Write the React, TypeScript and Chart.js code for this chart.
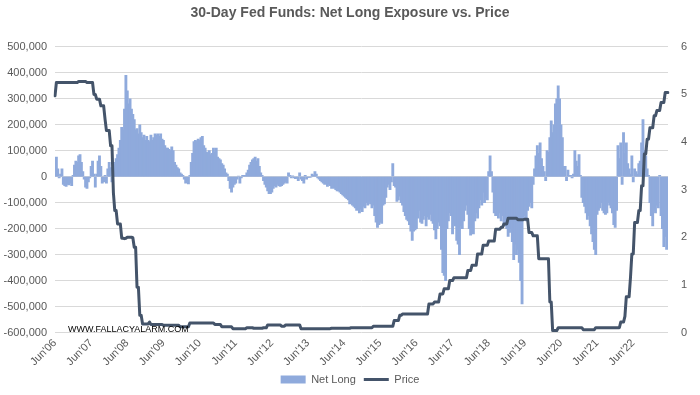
import { useEffect, useRef } from 'react';
import { Chart, registerables } from 'chart.js';

Chart.register(...registerables);

// One point every two weeks, starting June 2006 (26 points per year)
const periodsPerYear = 26;
const yearTicks = [
  "Jun'06", "Jun'07", "Jun'08", "Jun'09", "Jun'10", "Jun'11", "Jun'12", "Jun'13", "Jun'14",
  "Jun'15", "Jun'16", "Jun'17", "Jun'18", "Jun'19", "Jun'20", "Jun'21", "Jun'22",
];

// Net long positions, in thousands of contracts
const netLongThousands = [
  45, 75, 30, -5, 10, 30, -30, -35, -38, -30, -32, -25, -35, 5, 45, 60, 55, 80, 85, 55, 20, -10, -40, -45, -20, -5,
  40, 60, 10, -40, 10, 60, 80, 40, -25, -20, 5, -25, 30, 55, 35, -20, 45, 55, 70, 85, 110, 140, 190, 180, 260, 390,
  330, 280, 300, 260, 240, 220, 180, 185, 165, 200, 170, 150, 160, 140, 155, 140, 135, 160, 140, 150, 165, 160, 165, 155, 165, 145,
  140, 120, 110, 110, 105, 100, 115, 100, 55, 45, 35, 30, 15, 10, 5, -10, -25, -15, -28, 5, 55, 90, 135, 140, 135, 145,
  140, 150, 155, 120, 110, 95, 90, 100, 85, 90, 110, 95, 110, 75, 70, 65, 50, 45, 30, 15, 10, -15, -45, -60, -40, -30,
  -25, -10, 2, -25, -5, 5, 3, 5, 15, 25, 45, 55, 65, 70, 75, 60, 70, 40, 15, 5, -15, -30, -40, -55, -65, -65,
  -60, -45, -35, -40, -30, -35, -38, -35, -30, -25, -20, -25, 15, 5, -5, 3, -5, -8, -5, -15, 15, -10, -15, -25, 5, -10,
  -3, -3, -2, 10, 5, 20, 10, -5, -10, -15, -20, -25, -30, -25, -38, -30, -35, -45, -40, -45, -50, -55, -55, -60, -65, -70,
  -75, -80, -85, -90, -105, -100, -110, -115, -120, -130, -125, -140, -125, -135, -115, -120, -100, -110, -95, -105, -120, -110, -150, -175, -195, -185,
  -175, -180, -110, -105, -80, -40, -30, -50, -20, 50, -35, -40, -95, -90, -75, -100, -110, -135, -150, -165, -170, -185, -210, -245, -210, -205,
  -200, -160, -130, -175, -180, -165, -150, -190, -155, -165, -145, -170, -180, -205, -240, -200, -175, -190, -280, -370, -380, -400, -200, -170, -140, -150,
  -220, -180, -190, -245, -260, -300, -190, -200, -170, -130, -110, -145, -200, -225, -180, -220, -170, -140, -160, -120, -90, -110, -60, -100, -80, -90,
  20, 80, 20, -60, -140, -150, -125, -160, -140, -170, -150, -185, -190, -200, -230, -215, -200, -250, -320, -260, -300, -280, -330, -400, -490, -160,
  -150, -170, -130, -115, -100, -120, -30, 30, 80, 120, 90, 130, 70, 40, 20, -15, 100, 95, 150, 215, 170, 200, 280, 300, 350, 300,
  200, 150, 40, 40, -15, 25, 5, 5, -5, 10, 100, 60, 40, 85, 5, -80, -100, -115, -140, -165, -150, -190, -220, -250, -280, -300,
  -145, -130, -120, -100, -130, -140, -145, -140, -100, -110, -120, -140, -185, -195, -130, 120, 70, 130, -30, 170, 90, 130, 50, 30, 10, 80,
  -20, 30, 20, 10, 50, 60, 130, 220, 100, 80, 30, 5, -100, -150, -190, -130, -140, -110, -120, 5, -150, -200, -270, -230, -280, -200,
];

// Price (implied rate, %)
const price = [
  4.97, 5.25, 5.25, 5.25, 5.25, 5.25, 5.25, 5.25, 5.25, 5.25, 5.25, 5.25, 5.25, 5.25, 5.25, 5.25, 5.25, 5.27, 5.27, 5.27, 5.27, 5.27, 5.27, 5.25, 5.25, 5.25,
  5.25, 5.25, 5.0, 5.0, 4.9, 4.9, 4.9, 4.76, 4.76, 4.76, 4.48, 4.24, 4.24, 4.24, 3.92, 3.92, 2.94, 2.56, 2.56, 2.28, 2.28, 2.28, 1.98, 1.98, 1.97, 1.98,
  2.0, 2.0, 2.0, 2.0, 1.99, 1.79, 1.79, 0.95, 0.95, 0.36, 0.36, 0.18, 0.18, 0.18, 0.18, 0.18, 0.22, 0.17, 0.17, 0.17, 0.17, 0.17, 0.17, 0.17, 0.17, 0.17,
  0.15, 0.15, 0.15, 0.15, 0.15, 0.15, 0.15, 0.15, 0.15, 0.15, 0.15, 0.15, 0.12, 0.12, 0.12, 0.12, 0.12, 0.12, 0.12, 0.2, 0.2, 0.2, 0.2, 0.2, 0.2, 0.2,
  0.2, 0.2, 0.2, 0.2, 0.2, 0.2, 0.2, 0.2, 0.2, 0.2, 0.2, 0.17, 0.17, 0.17, 0.17, 0.17, 0.12, 0.12, 0.12, 0.12, 0.12, 0.12, 0.12, 0.12, 0.08, 0.08,
  0.08, 0.08, 0.08, 0.08, 0.08, 0.08, 0.08, 0.08, 0.1, 0.1, 0.1, 0.1, 0.1, 0.09, 0.09, 0.09, 0.09, 0.09, 0.09, 0.09, 0.1, 0.1, 0.1, 0.16, 0.16, 0.16,
  0.16, 0.16, 0.16, 0.16, 0.16, 0.16, 0.16, 0.13, 0.13, 0.13, 0.16, 0.16, 0.16, 0.16, 0.16, 0.16, 0.16, 0.16, 0.16, 0.16, 0.16, 0.08, 0.08, 0.08, 0.08, 0.08,
  0.08, 0.08, 0.08, 0.08, 0.08, 0.08, 0.08, 0.08, 0.08, 0.08, 0.08, 0.08, 0.08, 0.08, 0.08, 0.08, 0.08, 0.09, 0.09, 0.09, 0.09, 0.09, 0.09, 0.09, 0.09, 0.09,
  0.09, 0.09, 0.09, 0.09, 0.09, 0.1, 0.1, 0.1, 0.1, 0.1, 0.1, 0.1, 0.1, 0.1, 0.1, 0.1, 0.1, 0.1, 0.1, 0.1, 0.1, 0.13, 0.13, 0.13, 0.13, 0.13,
  0.13, 0.13, 0.13, 0.13, 0.13, 0.13, 0.13, 0.13, 0.13, 0.13, 0.25, 0.25, 0.25, 0.25, 0.36, 0.36, 0.39, 0.39, 0.39, 0.39, 0.39, 0.39, 0.39, 0.39, 0.39, 0.39,
  0.39, 0.39, 0.39, 0.39, 0.39, 0.39, 0.39, 0.39, 0.39, 0.6, 0.6, 0.6, 0.6, 0.64, 0.64, 0.64, 0.64, 0.81, 0.81, 0.81, 0.92, 0.92, 0.92, 0.92, 1.09, 1.09,
  1.09, 1.15, 1.15, 1.15, 1.15, 1.15, 1.15, 1.15, 1.15, 1.15, 1.15, 1.3, 1.3, 1.3, 1.41, 1.41, 1.41, 1.41, 1.65, 1.65, 1.65, 1.65, 1.83, 1.83, 1.83, 1.83,
  1.92, 1.92, 1.92, 1.92, 1.92, 2.17, 2.17, 2.17, 2.17, 2.21, 2.21, 2.28, 2.28, 2.28, 2.4, 2.4, 2.4, 2.4, 2.4, 2.4, 2.4, 2.37, 2.37, 2.37, 2.37, 2.37,
  2.38, 2.38, 2.38, 2.1, 2.1, 2.1, 2.03, 2.03, 2.03, 2.03, 1.55, 1.55, 1.55, 1.55, 1.55, 1.55, 1.55, 1.55, 0.64, 0.64, 0.04, 0.04, 0.04, 0.04, 0.1, 0.1,
  0.1, 0.1, 0.1, 0.1, 0.1, 0.1, 0.1, 0.1, 0.1, 0.1, 0.1, 0.1, 0.1, 0.1, 0.1, 0.1, 0.06, 0.06, 0.06, 0.06, 0.06, 0.06, 0.06, 0.06, 0.06, 0.1,
  0.1, 0.1, 0.1, 0.1, 0.1, 0.1, 0.1, 0.1, 0.1, 0.1, 0.1, 0.1, 0.1, 0.1, 0.1, 0.1, 0.1, 0.22, 0.22, 0.22, 0.34, 0.75, 0.75, 0.75, 1.15, 1.65,
  1.65, 2.31, 2.31, 2.31, 2.56, 2.56, 3.08, 3.08, 3.75, 3.75, 4.06, 4.06, 4.3, 4.3, 4.3, 4.55, 4.55, 4.66, 4.66, 4.66, 4.83, 4.83, 4.83, 5.04, 5.04, 5.04,
];

const titleText = '30-Day Fed Funds: Net Long Exposure vs. Price';
const watermarkText = 'WWW.FALLACYALARM.COM';
const seriesNames = ['Net Long', 'Price'];

const categories = price.map((_, i) =>
  i % periodsPerYear === 0 ? (yearTicks[i / periodsPerYear] ?? '') : ''
);

const textColor = '#595959';
const fontFamily = "'Liberation Sans', Arial, sans-serif";

const watermarkPlugin = {
  id: 'watermark',
  afterDatasetsDraw(chart: any) {
    const { ctx, chartArea } = chart;
    ctx.save();
    ctx.font = "9px 'Liberation Sans', Arial, sans-serif";
    ctx.fillStyle = '#000000';
    ctx.textBaseline = 'alphabetic';
    ctx.textAlign = 'left';
    ctx.fillText(watermarkText, chartArea.left + 13, chartArea.bottom - 1);
    ctx.restore();
  },
};

export default function App() {
  const canvasRef = useRef<HTMLCanvasElement | null>(null);

  useEffect(() => {
    document.body.style.margin = '0';
    const canvas = canvasRef.current;
    if (!canvas) return;
    const chart = new Chart(canvas, {
      type: 'bar',
      data: {
        labels: categories,
        datasets: [
          {
            type: 'bar',
            label: seriesNames[0],
            data: netLongThousands.map((v) => v * 1000),
            yAxisID: 'y',
            backgroundColor: '#8faadc',
            borderWidth: 0,
            barThickness: 2.2,
            order: 1,
            pointStyle: 'rect',
          } as any,
          {
            type: 'line',
            label: seriesNames[1],
            data: price,
            yAxisID: 'y1',
            borderColor: '#44546a',
            backgroundColor: '#44546a',
            borderWidth: 3,
            pointRadius: 0,
            tension: 0,
            borderJoinStyle: 'round',
            borderCapStyle: 'round',
            order: 0,
            pointStyle: 'line',
          } as any,
        ],
      },
      options: {
        animation: false,
        responsive: true,
        maintainAspectRatio: false,
        layout: { padding: { left: 0, right: 0, top: 0, bottom: 0 } },
        plugins: {
          title: {
            display: true,
            text: titleText,
            color: textColor,
            font: { family: fontFamily, size: 14, weight: 'bold' },
            padding: { top: 5, bottom: 25 },
          },
          legend: {
            display: true,
            position: 'bottom',
            labels: {
              color: textColor,
              font: { family: fontFamily, size: 11 },
              usePointStyle: true,
              pointStyleWidth: 25,
              boxHeight: 8,
              padding: 8,
              sort: (a: any, b: any) => a.datasetIndex - b.datasetIndex,
            },
          },
          tooltip: { enabled: false },
        },
        scales: {
          x: {
            type: 'category',
            offset: false,
            grid: { display: false, drawTicks: false },
            border: { display: false },
            ticks: {
              autoSkip: false,
              maxRotation: 45,
              minRotation: 45,
              color: textColor,
              font: { family: fontFamily, size: 11 },
              padding: 4,
            },
            afterFit: (scale: any) => {
              scale.height = 33.5;
            },
          },
          y: {
            type: 'linear',
            position: 'left',
            min: -600000,
            max: 500000,
            grid: { color: '#d9d9d9', lineWidth: 1, drawTicks: false },
            border: { display: false },
            ticks: {
              stepSize: 100000,
              color: textColor,
              font: { family: fontFamily, size: 11 },
              padding: 8,
              callback: (v: any) => Number(v).toLocaleString('en-US'),
            },
            afterFit: (scale: any) => {
              scale.width = 55;
            },
          },
          y1: {
            type: 'linear',
            position: 'right',
            min: 0,
            max: 6,
            grid: { display: false, drawTicks: false },
            border: { display: false },
            ticks: {
              stepSize: 1,
              color: textColor,
              font: { family: fontFamily, size: 11 },
              padding: 13,
            },
            afterFit: (scale: any) => {
              scale.width = 32;
            },
          },
        },
      },
      plugins: [watermarkPlugin],
    });
    return () => chart.destroy();
  }, []);

  return (
    <div style={{ position: 'absolute', left: 0, top: 0, width: 700, height: 395 }}>
      <canvas ref={canvasRef} />
    </div>
  );
}
